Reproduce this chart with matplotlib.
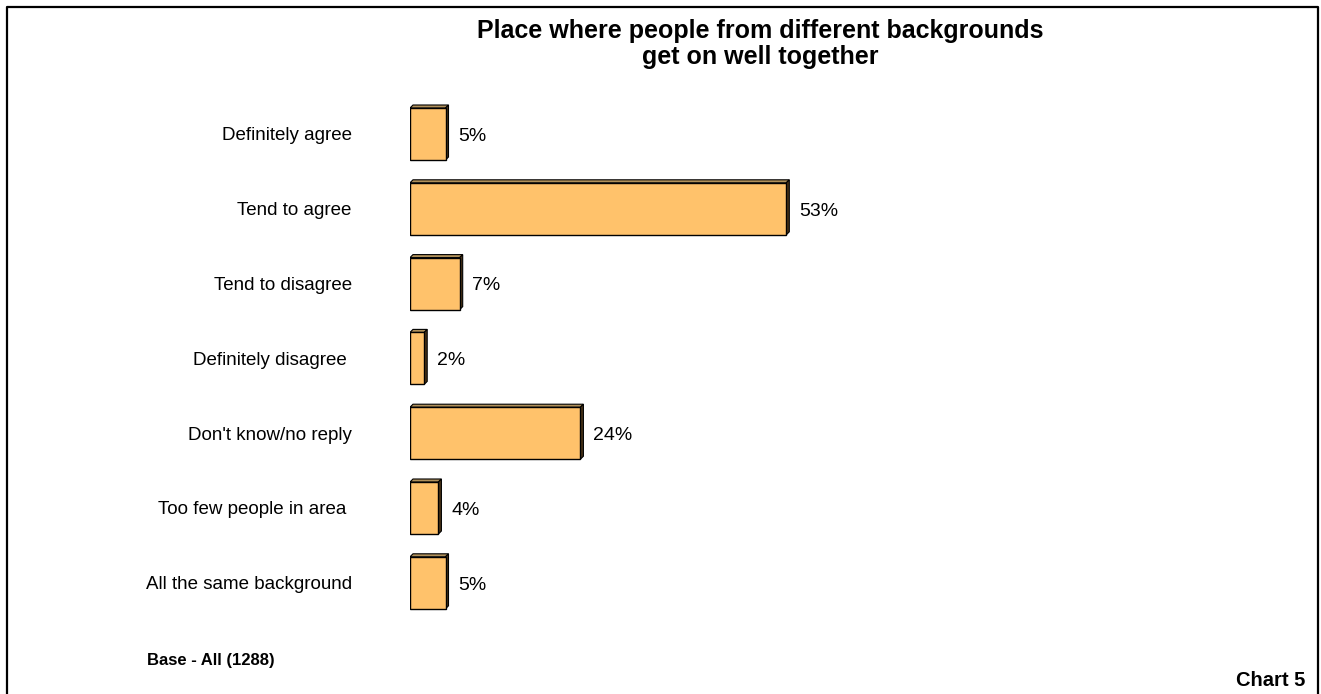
import matplotlib.pyplot as plt
from matplotlib.patches import Polygon

plt.rcParams['font.family'] = ['Liberation Sans', 'DejaVu Sans']

categories = ["Definitely agree", "Tend to agree", "Tend to disagree",
              "Definitely disagree ", "Don't know/no reply",
              "Too few people in area ", "All the same background"]
values = [5, 53, 7, 2, 24, 4, 5]
title_lines = ["Place where people from different backgrounds", "get on well together"]

W, H = 1321, 694
fig = plt.figure(figsize=(W / 100, H / 100), dpi=100)

# axes laid out in pixels: 7.1 px per percent, 74.8 px per row
ax_left, ax_top = 410, 96.6
ax_w, ax_h = 710, 7 * 74.8
ax = fig.add_axes([ax_left / W, 1 - (ax_top + ax_h) / H, ax_w / W, ax_h / H])
ax.set_xlim(0, 100)
ax.set_ylim(len(categories) - 0.5, -0.5)

bar_h = 52 / 74.8
face = "#FFC26B"
dx = 3 / 7.1     # depth of the 3-D edge in data units
dy = 3 / 74.8

for i, v in enumerate(values):
    y0, y1 = i - bar_h / 2, i + bar_h / 2
    # top face
    ax.add_patch(Polygon([(0, y0), (v, y0), (v + dx, y0 - dy), (dx, y0 - dy)],
                         closed=True, facecolor="#B0905A", edgecolor="black", lw=0.8))
    # side face
    ax.add_patch(Polygon([(v, y0), (v + dx, y0 - dy), (v + dx, y1 - dy), (v, y1)],
                         closed=True, facecolor="#4A3418", edgecolor="black", lw=0.8))
    ax.barh(i, v, height=bar_h, color=face, edgecolor="black", lw=1.0)
    ax.annotate(f"{v}%", (v + dx, i + 0.03), xytext=(7, 0), textcoords="offset points",
                va="center", ha="left", fontsize=14)

ax.set_yticks(range(len(categories)))
ax.set_yticklabels(categories, fontsize=13.5)
ax.tick_params(axis="y", length=0, pad=42)
ax.set_xticks([])
for s in ax.spines.values():
    s.set_visible(False)

for k, line in enumerate(title_lines):
    fig.text(760 / W, 1 - (31 + 26 * k) / H, line, ha="center", va="center",
             fontsize=18, fontweight="bold")
fig.text(211 / W, 1 - 661 / H, "Base - All (1288)", ha="center", va="center",
         fontsize=12, fontweight="bold")
fig.text(1305 / W, 1 - 680 / H, "Chart 5", ha="right", va="center",
         fontsize=14.5, fontweight="bold")

# frame round the chart, open at the bottom
fig.add_artist(plt.Line2D([6.5 / W, 6.5 / W, 1317.5 / W, 1317.5 / W],
                          [0, 1 - 6.5 / H, 1 - 6.5 / H, 0],
                          color="black", lw=1.6, transform=fig.transFigure))

fig.savefig("out.png", dpi=100)
